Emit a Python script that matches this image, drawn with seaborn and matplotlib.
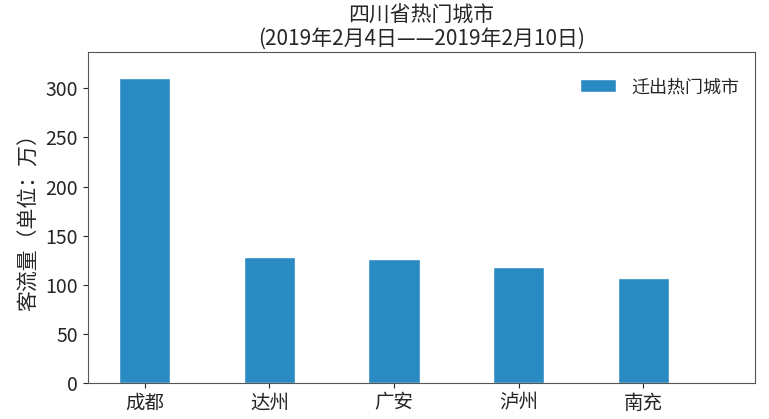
import pandas as pd
import seaborn as sns
from matplotlib import pyplot as plt

cities = ['成都', '达州', '广安', '泸州', '南充']
flow = [310, 128, 126, 118, 107]

df = pd.DataFrame({'city': cities, 'flow': flow, 'kind': '迁出热门城市'})

sns.set_style('ticks')
plt.rcParams['font.family'] = ['Noto Sans CJK SC', 'DejaVu Sans']

fig = plt.figure(figsize=(7.69, 4.19), dpi=100)
ax = fig.add_axes([0.114, 0.086, 0.868, 0.79])

sns.barplot(data=df, x='city', y='flow', hue='kind', palette=['#2a8bc3'],
            width=0.41, saturation=1, ax=ax)

ax.set_xlim(-0.46, 4.9)
ax.set_ylim(0, 337)
ax.set_yticks([0, 50, 100, 150, 200, 250, 300])
ax.set_xlabel('')
ax.set_ylabel('客流量（单位：万）', fontsize=15)
ax.set_title('四川省热门城市\n(2019年2月4日——2019年2月10日)', fontsize=15, linespacing=1.05, pad=5)
ax.tick_params(axis='both', labelsize=14)
for s in ax.spines.values():
    s.set_color('#555555')
ax.legend(loc='upper right', frameon=False, fontsize=13, bbox_to_anchor=(1.0, 0.97))

fig.savefig('out.png', dpi=100)
